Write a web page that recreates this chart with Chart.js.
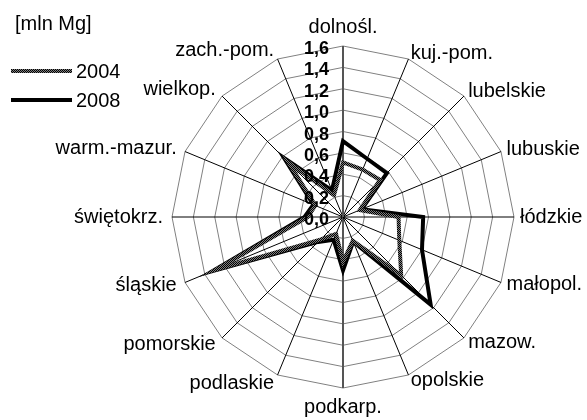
<!DOCTYPE html>
<html>
<head>
<meta charset="utf-8">
<script src="https://cdn.jsdelivr.net/npm/chart.js@4"></script>
<style>
  html, body { margin: 0; padding: 0; background: #fff; }
  #wrap { width: 587px; height: 420px; }
</style>
</head>
<body>
<div id="wrap"><canvas id="radar" width="587" height="420"></canvas></div>
<script>
// dane
const regiony = ['dolnośl.', 'kuj.-pom.', 'lubelskie', 'lubuskie', 'łódzkie', 'małopol.', 'mazow.', 'opolskie',
  'podkarp.', 'podlaskie', 'pomorskie', 'śląskie', 'świętokrz.', 'warm.-mazur.', 'wielkop.', 'zach.-pom.'];
const wartosci2004 = [0.51, 0.48, 0.49, 0.17, 0.52, 0.57, 0.77, 0.24, 0.42, 0.17, 0.30, 1.28, 0.33, 0.28, 0.72, 0.22];
const wartosci2008 = [0.71, 0.59, 0.58, 0.19, 0.75, 0.80, 1.16, 0.25, 0.50, 0.23, 0.33, 1.32, 0.36, 0.30, 0.78, 0.27];
const wartosciOsi = [0, 0.2, 0.4, 0.6, 0.8, 1.0, 1.2, 1.4, 1.6];
const jednostka = '[mln Mg]';
const serie = ['2004', '2008'];

const FONT = '"Liberation Sans", Arial, sans-serif';

const canvas = document.getElementById('radar');
const ctx0 = canvas.getContext('2d');

// kratka dla linii 2004
function wzorKratki() {
  const c = document.createElement('canvas');
  c.width = 2; c.height = 2;
  const x = c.getContext('2d');
  x.fillStyle = '#808080'; x.fillRect(0, 0, 2, 2);
  x.fillStyle = '#000'; x.fillRect(0, 0, 1, 1); x.fillRect(1, 1, 1, 1);
  return ctx0.createPattern(c, 'repeat');
}
const kratka = wzorKratki();

const przecinek = v => v.toFixed(1).replace('.', ',');

// etykiety kategorii, osi i legenda rysowane po danych
const etykietyPlugin = {
  id: 'etykiety',
  afterDatasetsDraw(chart) {
    const skala = chart.scales.r;
    const ctx = chart.ctx;
    const n = regiony.length;
    ctx.save();
    ctx.fillStyle = '#000';

    // nazwy województw
    ctx.font = '20px ' + FONT;
    regiony.forEach((nazwa, i) => {
      const kat = i * 360 / n;
      const prawa = kat > 0 && kat < 180;
      const p = skala.getPointPosition(i, skala.drawingArea + (prawa ? 6 : 9));
      let x = p.x, y = p.y;
      ctx.textAlign = 'center';
      ctx.textBaseline = 'middle';
      if (kat === 0) { ctx.textBaseline = 'alphabetic'; y = p.y - 4; }
      else if (kat === 180) { ctx.textBaseline = 'alphabetic'; y = p.y + 16; }
      else if (prawa) ctx.textAlign = 'left';
      else ctx.textAlign = 'right';
      ctx.fillText(nazwa, x, y);
    });

    // opisy osi
    ctx.font = 'bold 18px ' + FONT;
    ctx.textAlign = 'right';
    ctx.textBaseline = 'alphabetic';
    wartosciOsi.forEach(v => {
      const p = skala.getPointPositionForValue(0, v);
      ctx.fillText(przecinek(v), p.x - 14, p.y + 8);
    });

    // legenda
    ctx.font = '20px ' + FONT;
    ctx.textAlign = 'left';
    ctx.fillText(jednostka, 15, 30);
    const style = [kratka, '#000'];
    const yy = [71, 100];
    serie.forEach((s, k) => {
      ctx.strokeStyle = style[k];
      ctx.lineWidth = 4;
      ctx.beginPath();
      ctx.moveTo(11, yy[k]);
      ctx.lineTo(72, yy[k]);
      ctx.stroke();
      ctx.fillText(s, 76, yy[k] + 7);
    });
    ctx.restore();
  }
};

new Chart(canvas, {
  type: 'radar',
  data: {
    labels: regiony,
    datasets: [
      {
        label: serie[0],
        data: wartosci2004,
        borderColor: kratka,
        borderWidth: 4,
        pointRadius: 0,
        fill: false,
        borderJoinStyle: 'miter',
        order: 1
      },
      {
        label: serie[1],
        data: wartosci2008,
        borderColor: '#000',
        borderWidth: 4,
        pointRadius: 0,
        fill: false,
        borderJoinStyle: 'miter',
        order: 2
      }
    ]
  },
  options: {
    responsive: false,
    animation: false,
    layout: { padding: { left: 172, right: 73, top: 46, bottom: 32 } },
    plugins: {
      legend: { display: false },
      tooltip: { enabled: false }
    },
    scales: {
      r: {
        min: 0,
        max: 1.6,
        ticks: { display: false, stepSize: 0.2 },
        pointLabels: { display: false },
        grid: { color: '#808080', lineWidth: 1 },
        angleLines: {
          color: c => (c.index % 8 === 0 ? '#555' : '#000'),
          lineWidth: c => (c.index % 8 === 0 ? 2 : 1)
        }
      }
    }
  },
  plugins: [etykietyPlugin]
});
</script>
</body>
</html>
